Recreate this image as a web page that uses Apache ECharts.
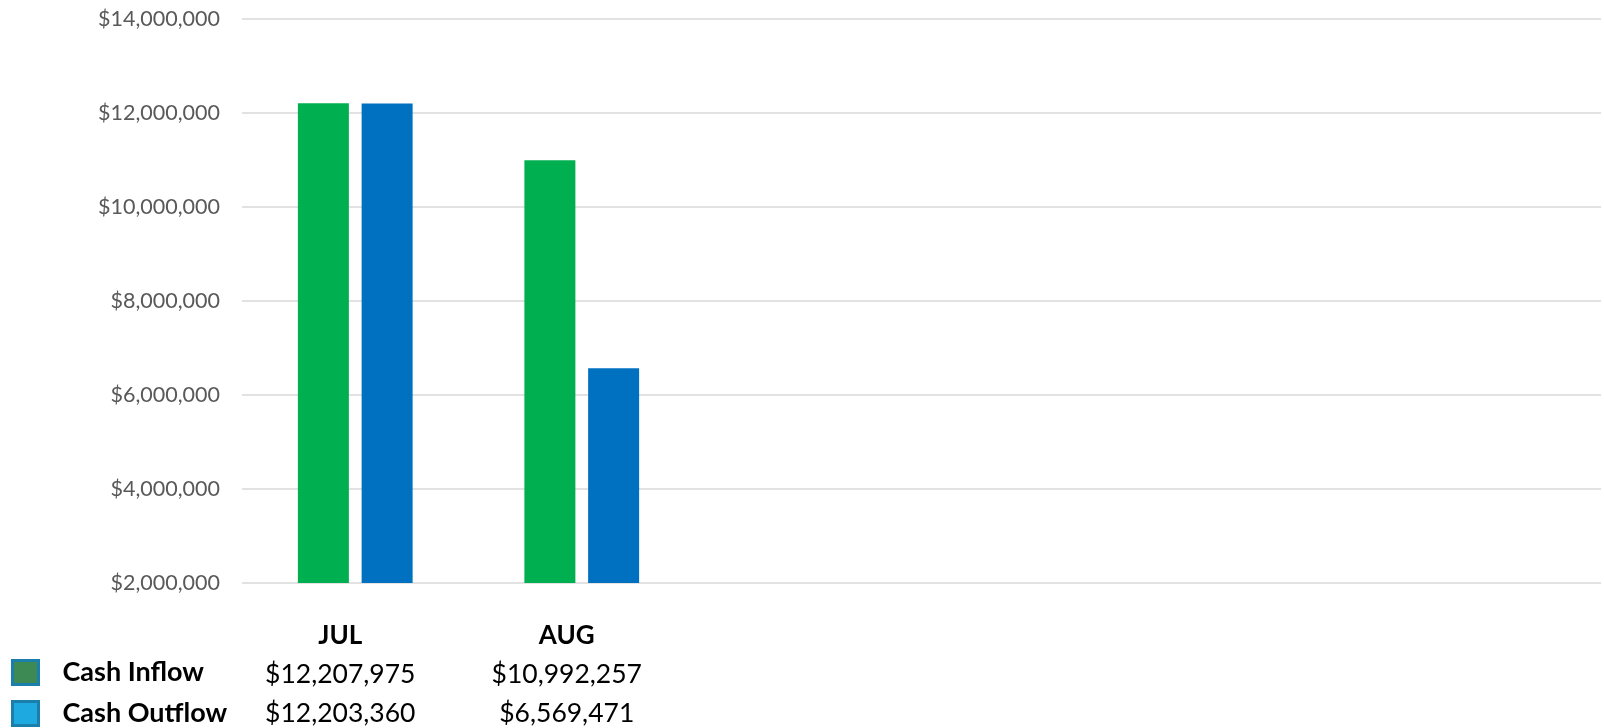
<!DOCTYPE html>
<html>
<head>
<meta charset="utf-8">
<script src="https://cdn.jsdelivr.net/npm/echarts@6/dist/echarts.min.js"></script>
<style>
html,body{margin:0;padding:0;background:#fff;}
#chart{width:1604px;height:728px;}
</style>
</head>
<body>
<div id="chart"></div>
<script>
const categories = ['JUL', 'AUG', '', '', '', ''];
const seriesNames = ['Cash Inflow', 'Cash Outflow'];
const cashInflow = [12207975, 10992257, null, null, null, null];
const cashOutflow = [12203360, 6569471, null, null, null, null];
const barColors = ['#00B050', '#0070C0'];
const legendFill = ['#3E8A55', '#1FA9E1'];

const fmt = v => '$' + Math.round(v).toLocaleString('en-US');

const chart = echarts.init(document.getElementById('chart'));
chart.setOption({
  animation: false,
  backgroundColor: '#ffffff',
  grid: { left: 242, right: 3, top: 19, bottom: 145, containLabel: false },
  legend: {
    orient: 'vertical',
    left: 11,
    top: 659,
    height: 80,
    padding: 0,
    itemWidth: 26,
    itemHeight: 24,
    itemGap: 14,
    selectedMode: false,
    icon: 'rect',
    textStyle: { fontFamily: 'Lato', fontWeight: 'bold', fontSize: 27, color: '#000', padding: [0, 0, 0, 19], lineHeight: 25 },
    data: seriesNames.map((n, i) => ({
      name: n,
      itemStyle: { color: legendFill[i], borderColor: '#1A7FAA', borderWidth: 3 }
    }))
  },
  xAxis: {
    type: 'category',
    data: categories,
    axisLine: { show: false },
    axisTick: { show: false },
    axisLabel: {
      interval: 0,
      margin: 33,
      padding: [0, 30, 0, 0],
      formatter: (val, idx) => {
        if (!val) return '';
        const a = cashInflow[idx], b = cashOutflow[idx];
        return '{h|' + val + '}\n{v|' + (a == null ? '' : fmt(a)) + '}\n{v|' + (b == null ? '' : fmt(b)) + '}';
      },
      rich: {
        h: { fontFamily: 'Lato', fontWeight: 'bold', fontSize: 26, color: '#000', lineHeight: 39 },
        v: { fontFamily: 'Lato', fontSize: 26.5, color: '#000', lineHeight: 39 }
      }
    }
  },
  yAxis: {
    type: 'value',
    min: 2000000,
    max: 14000000,
    interval: 2000000,
    axisLine: { show: false },
    axisTick: { show: false },
    splitLine: { lineStyle: { color: '#D9D9D9', width: 1.5 } },
    axisLabel: {
      margin: 22,
      fontFamily: 'Lato',
      fontSize: 21.5,
      color: '#595959',
      formatter: v => fmt(v)
    }
  },
  series: [
    { name: seriesNames[0], type: 'bar', data: cashInflow, itemStyle: { color: barColors[0] }, barWidth: 51, barGap: '25%' },
    { name: seriesNames[1], type: 'bar', data: cashOutflow, itemStyle: { color: barColors[1] }, barWidth: 51, barGap: '25%' }
  ]
});
</script>
</body>
</html>
